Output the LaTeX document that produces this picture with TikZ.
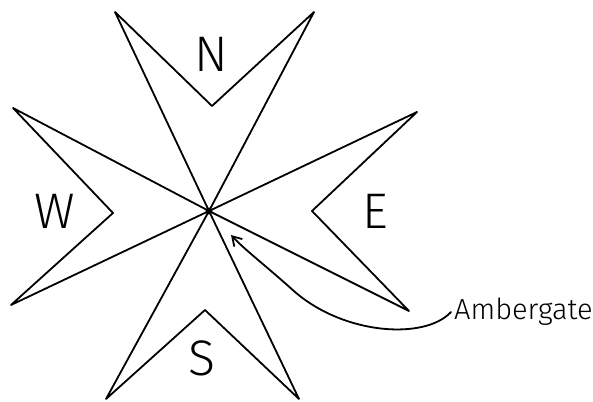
\documentclass[tikz,border=0pt]{standalone}
\usepackage{fontspec}
\newfontfamily\hand{Fira Sans Light}
\usetikzlibrary{arrows.meta}
\begin{document}
\begin{tikzpicture}[x=1pt,y=-1pt, line join=round, line cap=round,
  stroke/.style={line width=1.8pt},
  letter/.style={font=\hand\fontsize{50}{50}\selectfont, inner sep=0pt},
  lbl/.style={font=\hand\fontsize{29}{29}\selectfont, inner xsep=3pt, inner ysep=0pt}]
\useasboundingbox (0,0) rectangle (593,401);
\node[circle, fill, inner sep=0pt, minimum size=7pt] (C) at (209,211) {};
% north arm
\coordinate (nl) at (115,12);
\coordinate (nn) at (212,106);
\coordinate (nr) at (314,12);
% east arm
\coordinate (et) at (417,112);
\coordinate (en) at (312,211);
\coordinate (eb) at (409,311);
% south arm
\coordinate (sl) at (106,399);
\coordinate (sn) at (205,310);
\coordinate (sr) at (299,399);
% west arm
\coordinate (wt) at (13,108);
\coordinate (wn) at (113,213);
\coordinate (wb) at (11,305);
\draw[stroke] (C.center) -- (nl) -- (nn) -- (nr) -- cycle;
\draw[stroke] (C.center) -- (et) -- (en) -- (eb) -- cycle;
\draw[stroke] (C.center) -- (sl) -- (sn) -- (sr) -- cycle;
\draw[stroke] (C.center) -- (wt) -- (wn) -- (wb) -- cycle;
% letters
\node[letter] (N) at (211,54) {N};
\node[letter] (E) at (375,211) {E};
\node[letter] (S) at (202,358) {S};
\node[letter] (W) at (55,211) {W};
% Ambergate
\node[lbl, anchor=west] (amb) at (451,312) {Ambergate};
\coordinate (tip) at (231,235);
\draw[stroke, -{Straight Barb[length=9pt,width=11pt]}] (amb.west) .. controls (425,340) and (345,335) .. (295,292) .. controls (265,265) and (245,250) .. (tip);
\end{tikzpicture}
\end{document}
